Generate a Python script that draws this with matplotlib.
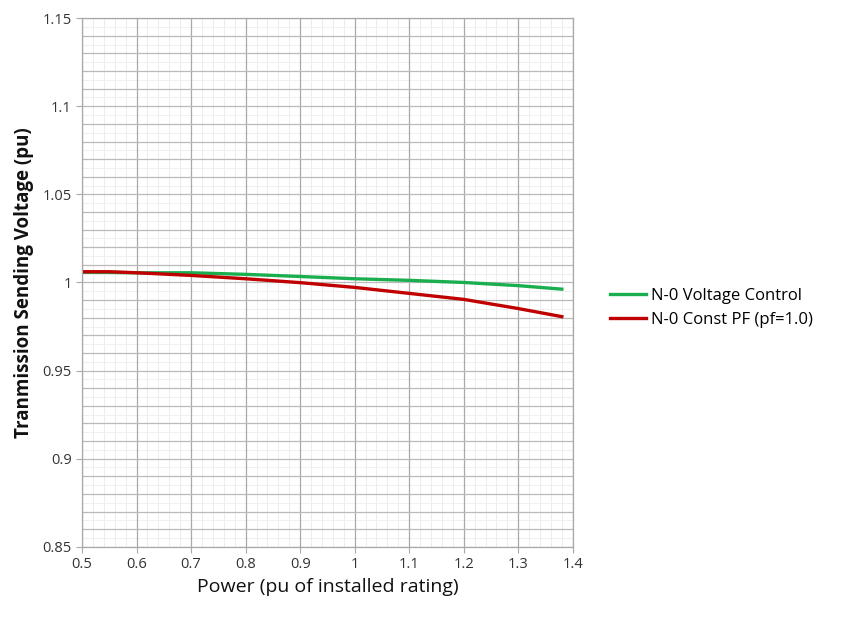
import numpy as np
import matplotlib
matplotlib.use("Agg")
import matplotlib.pyplot as plt

# Values
power = [0.5, 0.55, 0.6, 0.7, 0.8, 0.9, 1.0, 1.1, 1.2, 1.3, 1.38]
v_control = [1.0058, 1.0057, 1.0055, 1.0055, 1.0046, 1.0034, 1.0021, 1.0012, 1.0000, 0.9982, 0.9962]
v_const_pf = [1.0061, 1.0061, 1.0055, 1.0040, 1.0021, 0.9999, 0.9972, 0.9938, 0.9904, 0.9852, 0.9806]

plt.rcParams["font.family"] = ["Open Sans", "DejaVu Sans"]

fig = plt.figure(figsize=(8.46, 6.27), dpi=100)
ax = fig.add_axes([0.097, 0.128, 0.58, 0.843])

ax.plot(power, v_control, color="#1aae4f", lw=2.4, label="N-0 Voltage Control")
ax.plot(power, v_const_pf, color="#c00000", lw=2.4, label="N-0 Const PF (pf=1.0)")

ax.set_xlim(0.5, 1.4)
ax.set_ylim(0.85, 1.15)
ax.set_xticks(np.arange(0.5, 1.41, 0.1))
ax.set_xticklabels(["0.5", "0.6", "0.7", "0.8", "0.9", "1", "1.1", "1.2", "1.3", "1.4"])
ax.set_yticks(np.arange(0.85, 1.151, 0.05))
ax.set_yticklabels(["0.85", "0.9", "0.95", "1", "1.05", "1.1", "1.15"])

# grid: faint fine lines, medium lines every 0.1 / 0.01
for x in np.arange(0.5, 1.4001, 0.02):
    ax.axvline(x, color="#ececec", lw=0.7, zorder=0)
for y in np.arange(0.85, 1.1501, 0.005):
    ax.axhline(y, color="#f0f0f0", lw=0.7, zorder=0)
for x in np.arange(0.5, 1.4001, 0.1):
    ax.axvline(x, color="#a8a8a8", lw=0.9, zorder=0.5)
for y in np.arange(0.85, 1.1501, 0.01):
    ax.axhline(y, color="#bababa", lw=0.9, zorder=0.5)

for s in ax.spines.values():
    s.set_color("#a8a8a8")
    s.set_linewidth(0.9)
ax.tick_params(axis="both", colors="#a8a8a8", labelcolor="#333333", labelsize=10.5, length=4)

ax.set_xlabel("Power (pu of installed rating)", fontsize=14, color="#111111", labelpad=4)
ax.set_ylabel("Tranmission Sending Voltage (pu)", fontsize=13.5, fontweight="bold",
              color="#111111", labelpad=6)

ax.legend(loc="center left", bbox_to_anchor=(1.045, 0.452), frameon=False,
          fontsize=12, handlelength=2.2, handletextpad=0.25, labelspacing=0.45)

fig.savefig("out.png", dpi=100)
